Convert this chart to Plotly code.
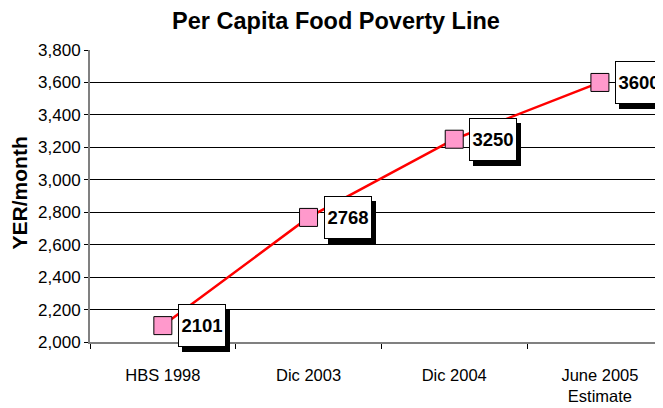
import plotly.graph_objects as go

categories = ["HBS 1998", "Dic 2003", "Dic 2004", "June 2005<br>Estimate"]
values = [2101, 2768, 3250, 3600]
y_ticks = [2000, 2200, 2400, 2600, 2800, 3000, 3200, 3400, 3600, 3800]

FONT = "Liberation Sans, Arial, sans-serif"

# the page body has an 8px margin, so the figure is laid out 8px smaller
W, H = 655, 400
L, T, B = 82, 41.5, 66.3
PW, PH = W - L, H - T - B

fig = go.Figure()
fig.add_trace(go.Scatter(
    x=categories, y=values, mode="lines+markers",
    line=dict(color="#FF0000", width=2.5),
    marker=dict(symbol="square", size=18, color="#FF99CC",
                line=dict(color="#000000", width=1)),
    showlegend=False, hoverinfo="skip",
))

annotations = []
for c, v in zip(categories, values):
    # drop shadow
    annotations.append(dict(
        x=c, y=v, xref="x", yref="y", text="<b>%d</b>" % v, showarrow=False,
        xanchor="left", yanchor="middle", xshift=19, yshift=-5,
        width=46, height=41, bgcolor="#000000", bordercolor="#000000",
        borderwidth=1, borderpad=0,
        font=dict(family=FONT, size=18.5, color="#000000"),
    ))
    annotations.append(dict(
        x=c, y=v, xref="x", yref="y", text="<b>%d</b>" % v, showarrow=False,
        xanchor="left", yanchor="middle", xshift=15, yshift=0,
        width=46, height=41, bgcolor="#FFFFFF", bordercolor="#000000",
        borderwidth=1, borderpad=0,
        font=dict(family=FONT, size=18.5, color="#000000"),
    ))

# y-axis title as rotated annotation
annotations.append(dict(
    x=(11 - L) / PW, y=(H - B - 185) / PH, xref="paper", yref="paper",
    text="<b>YER/month</b>", textangle=-90, showarrow=False,
    xanchor="center", yanchor="middle",
    font=dict(family=FONT, size=21, color="#000000"),
))

fig.update_layout(
    width=W, height=H,
    margin=dict(l=L, r=0, t=T, b=B, pad=0),
    paper_bgcolor="#FFFFFF", plot_bgcolor="#FFFFFF",
    font=dict(family=FONT, size=16, color="#000000"),
    title=dict(text="<b>Per Capita Food Poverty Line</b>", x=328 / W, xanchor="center",
               y=1 - 13 / H, yanchor="middle", font=dict(family=FONT, size=23.5, color="#000000")),
    annotations=annotations,
    xaxis=dict(
        type="category", tickmode="array", tickvals=categories, ticktext=categories,
        range=[-0.5, 3.433], showgrid=False, zeroline=False, automargin=False,
        showline=True, linecolor="#808080", linewidth=1.5,
        ticks="outside", ticklen=5, tickcolor="#000000", tickson="boundaries",
        tickfont=dict(family=FONT, size=16.5, color="#000000"),
        ticklabelstandoff=17,
    ),
    yaxis=dict(
        range=[2000, 3800], tickmode="array", tickvals=y_ticks,
        ticktext=[f"{t:,}" for t in y_ticks], automargin=False,
        showgrid=True, gridcolor="#000000", gridwidth=1, zeroline=False,
        showline=True, linecolor="#808080", linewidth=2,
        ticks="outside", ticklen=4, tickcolor="#000000",
        tickfont=dict(family=FONT, size=17, color="#000000"),
    ),
)

fig.write_html("out.html")
